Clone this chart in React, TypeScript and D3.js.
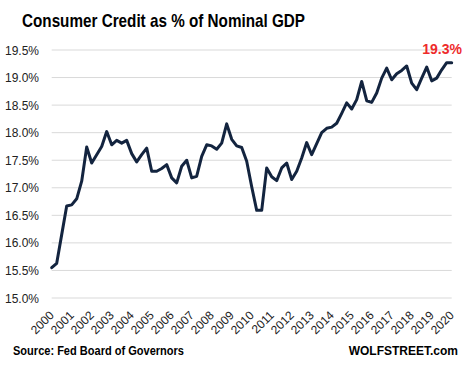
import React from 'react'
import * as d3 from 'd3'

// quarterly, 2000 Q1 .. 2020 Q1
const creditPct = [
  15.55, 15.63, 16.15, 16.67, 16.69, 16.8, 17.12, 17.74, 17.45, 17.6,
  17.75, 18.02, 17.78, 17.86, 17.81, 17.86, 17.62, 17.47, 17.6, 17.72,
  17.3, 17.3, 17.35, 17.42, 17.18, 17.09, 17.39, 17.5, 17.18, 17.21,
  17.57, 17.78, 17.76, 17.7, 17.81, 18.16, 17.88, 17.76, 17.73, 17.48,
  17.02, 16.59, 16.59, 17.36, 17.2, 17.13, 17.36, 17.45, 17.15, 17.3,
  17.54, 17.82, 17.6, 17.8, 18.0, 18.08, 18.1, 18.17, 18.35, 18.54,
  18.43, 18.6, 18.93, 18.58, 18.55, 18.72, 18.99, 19.17, 18.96, 19.07,
  19.13, 19.21, 18.9, 18.78, 18.99, 19.19, 18.94, 18.99, 19.14, 19.27,
  19.27
]
const years = d3.range(2000, 2021)
const yTicks = [15, 15.5, 16, 16.5, 17, 17.5, 18, 18.5, 19, 19.5]

const W = 465
const H = 365

const App: React.FC = () => {
  const x = d3.scaleLinear().domain([0, creditPct.length - 1]).range([51.7, 451.7])
  const y = d3.scaleLinear().domain([15, 19.5]).range([298, 50])

  const line = d3.line<number>()
    .x((_, i) => x(i))
    .y(d => y(d))

  const font = '"Liberation Sans", Arial, sans-serif'

  return (
    <svg width={W} height={H} style={{ position: 'absolute', left: 0, top: 0, background: '#fff' }}>
      <text x={22} y={26.5} fontFamily={font} fontWeight="bold" fontSize={19} fill="#000"
        textLength={283} lengthAdjust="spacingAndGlyphs">
        Consumer  Credit as % of Nominal GDP
      </text>

      {/* gridlines + y labels */}
      {yTicks.map(t => (
        <g key={t}>
          <line x1={51.7} x2={451.7} y1={y(t)} y2={y(t)} stroke="#d9d9d9" strokeWidth={1} />
          <text x={39} y={y(t) + 4.5} textAnchor="end" fontFamily={font} fontSize={12} fill="#222">
            {d3.format('.1f')(t)}%
          </text>
        </g>
      ))}

      {/* x labels */}
      {years.map((yr, k) => {
        const px = x(k * 4) + 3
        const py = 316
        return (
          <text key={yr} x={px} y={py} textAnchor="end" fontFamily={font} fontSize={12} fill="#222"
            transform={`rotate(-45, ${px}, ${py})`}>
            {yr}
          </text>
        )
      })}

      <path d={line(creditPct) || ''} fill="none" stroke="#13243f" strokeWidth={3}
        strokeLinejoin="round" strokeLinecap="round" />

      <text x={462} y={54} textAnchor="end" fontFamily={font} fontWeight="bold" fontSize={14} fill="#ee2b2b">
        19.3%
      </text>

      <text x={13} y={355} fontFamily={font} fontWeight="bold" fontSize={12} fill="#000"
        textLength={171} lengthAdjust="spacingAndGlyphs">
        Source: Fed Board of Governors
      </text>
      <text x={458} y={355} textAnchor="end" fontFamily={font} fontWeight="bold" fontSize={12} fill="#000">
        WOLFSTREET.com
      </text>
    </svg>
  )
}

export default App
